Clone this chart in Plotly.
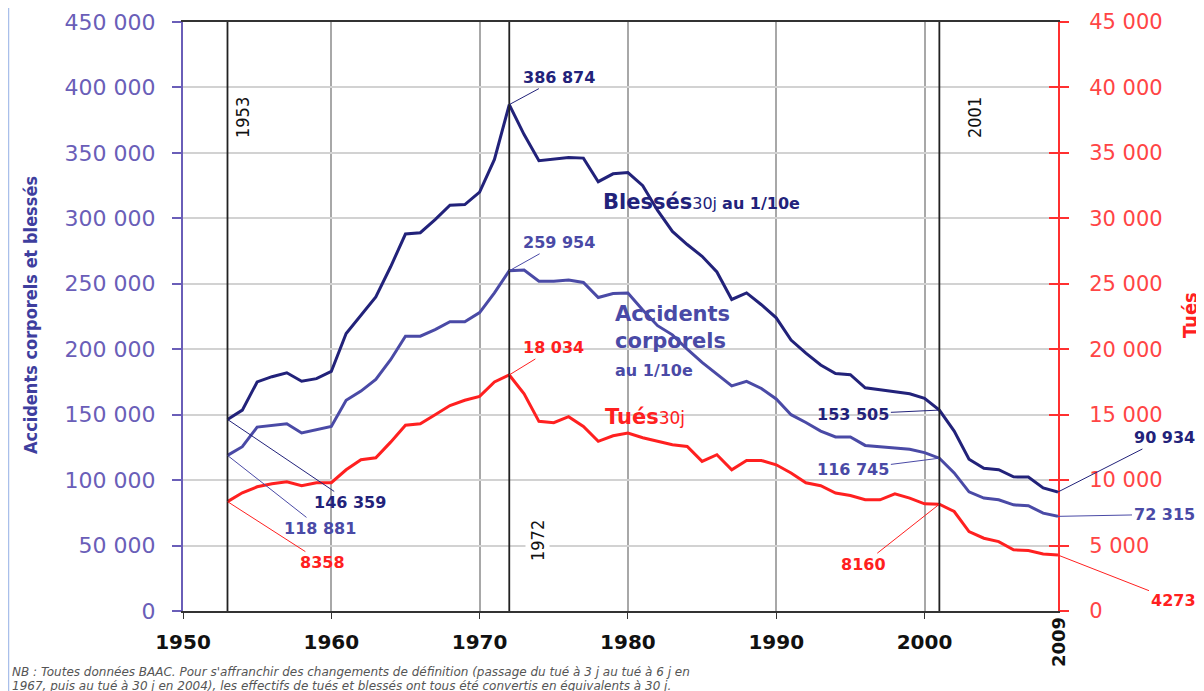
import plotly.graph_objects as go

years = list(range(1953, 2010))
blesses = [146359, 153500, 175000, 179000, 182000, 175500, 177500, 183000, 212000, 226000,
           240000, 263000, 288000, 289000, 299000, 310000, 310500, 320000, 345000, 386874,
           364000, 344000, 345000, 346500, 346000, 328000, 334000, 335000, 325000, 306000,
           290000, 280000, 271000, 259000, 238000, 243000, 234000, 224000, 207000, 197000,
           188000, 181500, 180500, 170500, 169000, 167500, 166000, 162500, 153505, 137500,
           116000, 109000, 108000, 102500, 102300, 94000, 90934]
accidents = [118881, 125500, 140500, 141500, 143000, 136000, 138500, 141000, 161000, 168000,
             177000, 192000, 210000, 210000, 215000, 221000, 221000, 228000, 243000, 259954,
             260500, 252000, 252000, 252800, 251000, 239500, 242500, 243000, 230000, 218000,
             211000, 200000, 190000, 181000, 172000, 175500, 170000, 162000, 150000, 144000,
             137500, 133000, 132900, 126500, 125300, 124500, 123500, 121000, 116745, 105500,
             91000, 86300, 85000, 81100, 80400, 74800, 72315]
tues = [8358, 9030, 9490, 9720, 9870, 9570, 9800, 9800, 10790, 11560,
        11710, 12900, 14200, 14300, 15000, 15700, 16100, 16400, 17500, 18034,
        16600, 14490, 14390, 14850, 14100, 12960, 13390, 13600, 13240, 12960,
        12700, 12575, 11430, 11940, 10790, 11500, 11500, 11170, 10540, 9800,
        9570, 9010, 8825, 8495, 8495, 8955, 8625, 8190, 8160, 7600,
        6070, 5560, 5300, 4670, 4620, 4360, 4273]
marker_years = [1953, 1972, 2001]
left_ticks = list(range(0, 450001, 50000))
right_ticks = list(range(0, 45001, 5000))
x_ticks = [1950, 1960, 1970, 1980, 1990, 2000]

C_BLE = "#22227A"
C_ACC = "#4A4AA6"
C_TUE = "#FF2020"
C_LAX = "#6A5EB8"
C_RAX = "#FF3030"

# page offset of the figure (browser body margin)
OFF = 8
L, R, T, B = 183 - OFF, 1058 - OFF, 22 - OFF, 611 - OFF  # plot box in figure px
W, H = 1204, 691
PW, PH = R - L, B - T


def px(xp):  # page x -> paper x
    return (xp - OFF - L) / PW


def py(yp):  # page y -> paper y
    return (B - (yp - OFF)) / PH


def fmt(v):
    return f"{v:,}".replace(",", " ") if v >= 10000 else str(v)


fig = go.Figure()
fig.add_trace(go.Scatter(x=years, y=blesses, mode="lines", line=dict(color=C_BLE, width=3),
                         name="Blessés", showlegend=False))
fig.add_trace(go.Scatter(x=years, y=accidents, mode="lines", line=dict(color=C_ACC, width=3),
                         name="Accidents", showlegend=False))
fig.add_trace(go.Scatter(x=years, y=tues, mode="lines", line=dict(color=C_TUE, width=3),
                         name="Tués", yaxis="y2", showlegend=False))

for yr in marker_years:
    fig.add_shape(type="line", xref="x", yref="paper", x0=yr, x1=yr, y0=0, y1=1,
                  line=dict(color="#222222", width=1.8))

# frame edge on the left
fig.add_shape(type="line", xref="paper", yref="paper", x0=px(8.5), x1=px(8.5), y0=py(700), y1=py(6),
              line=dict(color="#A9BFEA", width=1.5), layer="below")

annos = []
specs = [
    (blesses, "y", 1972, 50, -27, C_BLE),
    (accidents, "y", 1972, 50, -28, C_ACC),
    (tues, "y2", 1972, 44, -27, C_TUE),
    (blesses, "y", 1953, 123, 83, C_BLE),
    (accidents, "y", 1953, 93, 73, C_ACC),
    (tues, "y2", 1953, 95, 61, C_TUE),
    (blesses, "y", 2001, -86, 4, C_BLE),
    (accidents, "y", 2001, -86, 11, C_ACC),
    (tues, "y2", 2001, -76, 60, C_TUE),
    (blesses, "y", 2009, 106, -54, C_BLE),
    (accidents, "y", 2009, 106, -2, C_ACC),
    (tues, "y2", 2009, 115, 45, C_TUE),
]
for series, yref, yr, ax, ay, col in specs:
    v = series[years.index(yr)]
    annos.append(dict(x=yr, y=v, xref="x", yref=yref, text=f"<b>{fmt(v)}</b>",
                      showarrow=True, arrowhead=0, arrowwidth=1, arrowcolor=col,
                      ax=ax, ay=ay, font=dict(family="DejaVu Sans", size=16, color=col)))

annos.append(dict(x=px(601), y=py(202), xref="paper", yref="paper", xanchor="left", yanchor="middle",
                  showarrow=False,
                  text="<b>Blessés</b><span style='font-size:16px'>30j <b>au 1/10e</b></span>",
                  font=dict(family="DejaVu Sans", size=21, color=C_BLE)))
annos.append(dict(x=px(613), y=py(341), xref="paper", yref="paper", xanchor="left", yanchor="middle",
                  showarrow=False, align="left",
                  text="<b>Accidents<br>corporels<br><span style='font-size:16px'>au 1/10e</span></b>",
                  font=dict(family="DejaVu Sans", size=21, color=C_ACC)))
annos.append(dict(x=px(603), y=py(417), xref="paper", yref="paper", xanchor="left", yanchor="middle",
                  showarrow=False,
                  text="<b>Tués</b><span style='font-size:17px'>30j</span>",
                  font=dict(family="DejaVu Sans", size=21, color=C_TUE)))

narrow = "DejaVu Sans Condensed, Liberation Sans Narrow, sans-serif"
for yr, xc, yc in [(1953, 243, 118), (1972, 537, 541), (2001, 975, 118)]:
    annos.append(dict(x=px(xc), y=py(yc), xref="paper", yref="paper", showarrow=False,
                      xanchor="center", yanchor="middle",
                      textangle=-90, text=str(yr), bgcolor="white",
                      font=dict(family=narrow, size=18, color="#111111")))
annos.append(dict(x=2009, y=py(642), xref="x", yref="paper", showarrow=False, textangle=-90,
                  xanchor="center", yanchor="middle",
                  text="<b>2009</b>", font=dict(family="DejaVu Sans", size=18, color="#111111")))

annos.append(dict(x=px(30), y=py(315), xref="paper", yref="paper", showarrow=False,
                  xanchor="center", yanchor="middle",
                  textangle=-90, text="<b>Accidents corporels et blessés</b>",
                  font=dict(family=narrow, size=18, color="#3E3E9E")))
annos.append(dict(x=px(1190), y=py(315), xref="paper", yref="paper",
                  xanchor="center", yanchor="middle",
                  showarrow=False, textangle=-90, text="<b>Tués</b>",
                  font=dict(family=narrow, size=20, color=C_TUE)))

annos.append(dict(x=px(10), y=py(672), xref="paper", yref="paper",
                  xanchor="left", yanchor="middle", showarrow=False, align="left",
                  text="<i>NB : Toutes données BAAC. Pour s'affranchir des changements de définition "
                       "(passage du tué à 3 j au tué à 6 j en</i>",
                  font=dict(family="DejaVu Sans", size=12, color="#555555")))
annos.append(dict(x=px(10), y=py(686), xref="paper", yref="paper",
                  xanchor="left", yanchor="middle", showarrow=False, align="left",
                  text="<i>1967, puis au tué à 30 j en 2004), les effectifs de tués et blessés ont "
                       "tous été convertis en équivalents à 30 j.</i>",
                  font=dict(family="DejaVu Sans", size=12, color="#555555")))

fig.update_layout(
    width=W, height=H,
    margin=dict(l=L, r=W - R, t=T, b=H - B, autoexpand=False),
    paper_bgcolor="white", plot_bgcolor="white",
    separators=", ",
    showlegend=False,
    annotations=annos,
    xaxis=dict(range=[1950, 2009], tickvals=x_ticks, showgrid=True, gridcolor="#A8A8A8",
               gridwidth=1.5, zeroline=False, showline=True, linecolor="#333333", linewidth=1.5,
               mirror=True, ticks="outside", ticklen=6, tickcolor="#333333",
               tickfont=dict(family="DejaVu Sans", size=20, color="#111111", weight="bold"),
               ticklabelstandoff=6),
    yaxis=dict(range=[0, 450000], tickvals=left_ticks, tickformat=",d", showgrid=True,
               gridcolor="#D2D2D2", gridwidth=1.5, zeroline=False, showline=True,
               linecolor=C_LAX, linewidth=2, ticks="outside", ticklen=9, tickcolor=C_LAX,
               tickwidth=1.5, ticklabelstandoff=12,
               tickfont=dict(family="DejaVu Sans", size=22, color=C_LAX)),
    yaxis2=dict(range=[0, 45000], tickvals=right_ticks, tickformat=",d", overlaying="y",
                side="right", showgrid=False, zeroline=False, showline=True, linecolor=C_RAX,
                linewidth=2, ticks="outside", ticklen=9, tickcolor=C_RAX, tickwidth=1.5,
                ticklabelstandoff=16, tickfont=dict(family="DejaVu Sans", size=21, color="#FF4545")),
    yaxis3=dict(range=[0, 45000], tickvals=right_ticks, overlaying="y", side="right",
                showgrid=False, zeroline=False, showline=False, ticks="inside", ticklen=9,
                tickcolor=C_RAX, tickwidth=1.5, showticklabels=False),
)
fig.add_trace(go.Scatter(x=[2009], y=[0], yaxis="y3", mode="markers", marker=dict(opacity=0),
                         hoverinfo="skip", showlegend=False))

fig.write_html("out.html")
